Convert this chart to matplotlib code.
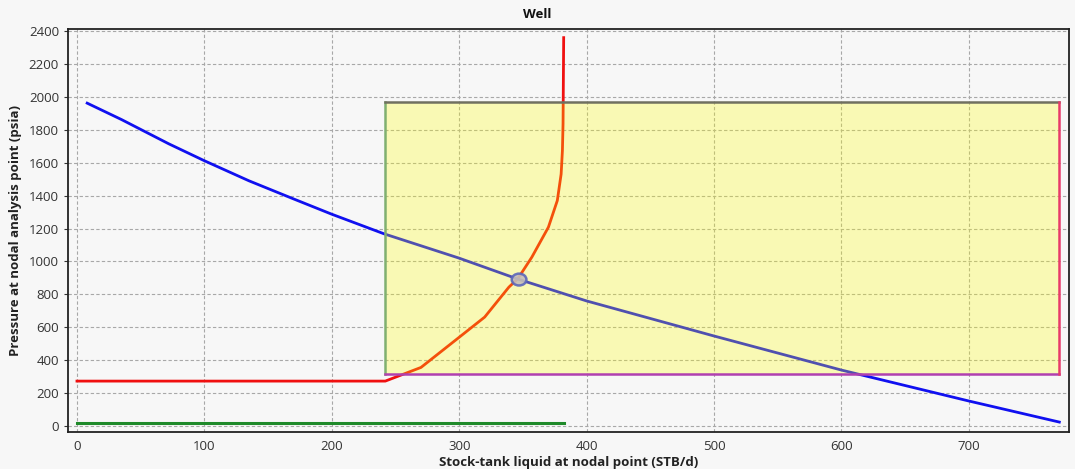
import matplotlib
matplotlib.use("Agg")
import matplotlib.pyplot as plt
from matplotlib.patches import Rectangle, Ellipse

plt.rcParams["font.family"] = ["Open Sans", "DejaVu Sans"]

# inflow curve (blue)
ipr_q = [8, 35, 72, 100, 135, 170, 200, 241, 300, 346, 400, 500, 600, 700, 771]
ipr_p = [1962, 1862, 1715, 1612, 1490, 1380, 1287, 1168, 1020, 893, 760, 547, 340, 152, 24]

# outflow curve (red)
vlp_q = [0, 242, 270, 297, 320, 339, 346, 357, 370, 377, 380, 381, 381.5, 382]
vlp_p = [273, 273, 356, 521, 662, 844, 895, 1026, 1208, 1370, 1531, 1673, 1836, 2360]

# green base line
base_q = [0, 382]
base_p = [18, 18]

# operating point
op_q, op_p = 347, 890

# operating envelope box
box_q = [242, 771]
box_p = [316, 1966]

x_ticks = [0, 100, 200, 300, 400, 500, 600, 700]
y_ticks = list(range(0, 2401, 200))

fig = plt.figure(figsize=(10.75, 4.69), dpi=100)
fig.patch.set_facecolor("#f7f7f7")
ax = fig.add_axes([0.0633, 0.079, 0.931, 0.859])
ax.set_facecolor("#f7f7f7")

ax.set_xlim(-7, 778.5)
ax.set_ylim(-36, 2412)
ax.set_xticks(x_ticks)
ax.set_yticks(y_ticks)

ax.grid(True, color="#a8a8a8", linestyle=(0, (3, 2)), linewidth=0.8, zorder=0)
ax.set_axisbelow(True)

ax.plot(base_q, base_p, color="#1f8a2a", linewidth=2.2, zorder=2)
ax.plot(vlp_q, vlp_p, color="#f01010", linewidth=2.0, zorder=2)
ax.plot(ipr_q, ipr_p, color="#1010f0", linewidth=2.0, zorder=2)

ax.add_patch(Ellipse((op_q, op_p), 11.5, 72, facecolor="#b0a8ff",
                     edgecolor="#2030ff", linewidth=1.8, alpha=0.9, zorder=3))

# translucent yellow overlay
ax.add_patch(Rectangle((box_q[0], box_p[0]), box_q[1] - box_q[0], box_p[1] - box_p[0],
                       facecolor="#ffff00", edgecolor="none", alpha=0.27, zorder=4))
ax.plot([box_q[0], box_q[0]], box_p, color="#80b070", linewidth=1.8, zorder=5)
ax.plot(box_q, [box_p[1], box_p[1]], color="#707060", linewidth=1.8, zorder=5)
ax.plot(box_q, [box_p[0], box_p[0]], color="#b040b0", linewidth=1.8, zorder=5)
ax.plot([box_q[1], box_q[1]], box_p, color="#e83a6a", linewidth=1.8, zorder=5)

for s in ax.spines.values():
    s.set_color("#222222")
    s.set_linewidth(1.3)

ax.tick_params(axis="both", labelsize=9.5, colors="#333333", length=3, width=0.8)
ax.tick_params(axis="x", length=0, pad=6)

ax.set_xlabel("Stock-tank liquid at nodal point (STB/d)", fontsize=9.5,
              fontweight="bold", color="#222222", labelpad=2)
ax.set_ylabel("Pressure at nodal analysis point (psia)", fontsize=9.5,
              fontweight="bold", color="#222222", labelpad=5)
fig.text(0.5, 0.97, "Well", ha="center", va="center", fontsize=9.5,
         fontweight="bold", color="#111111")

fig.savefig("out.png", dpi=100, facecolor=fig.get_facecolor())
